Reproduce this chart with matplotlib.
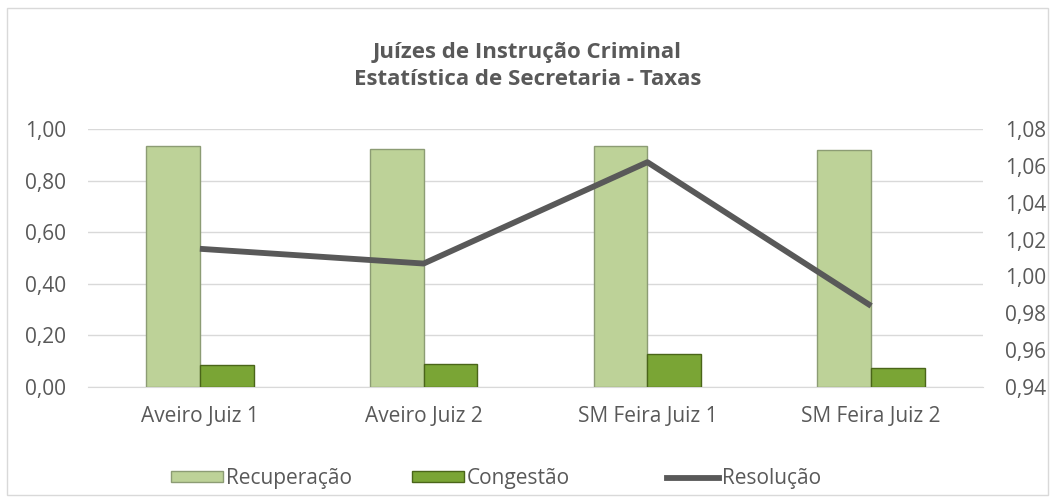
import numpy as np
import matplotlib
matplotlib.use("Agg")
import matplotlib.pyplot as plt
from matplotlib.patches import Rectangle
from matplotlib.lines import Line2D
from matplotlib.ticker import FuncFormatter

# ── Dados ────────────────────────────────────────────────────────────────────
categorias = ["Aveiro Juiz 1", "Aveiro Juiz 2", "SM Feira Juiz 1", "SM Feira Juiz 2"]
recuperacao = [0.934, 0.922, 0.936, 0.917]
congestao = [0.085, 0.088, 0.127, 0.073]
resolucao = [1.015, 1.007, 1.062, 0.984]
series = ["Recuperação", "Congestão", "Resolução"]

plt.rcParams["font.family"] = ["Open Sans", "DejaVu Sans"]
TXT = "#595959"
GRID = "#d9d9d9"
FS = 15

fig = plt.figure(figsize=(10.55, 5.01), dpi=100)
fig.patches.append(Rectangle((0.007, 0.012), 0.986, 0.972, transform=fig.transFigure,
                             fill=False, edgecolor=GRID, linewidth=1))

ax = fig.add_axes([0.0834, 0.2275, 0.8484, 0.515])
x = np.arange(len(categorias))
w = 0.24

ax.bar(x - w / 2, recuperacao, w, color="#bdd298", edgecolor="#8c9c74",
       linewidth=1, zorder=3)
ax.bar(x + w / 2, congestao, w, color="#7aa535", edgecolor="#4a6519",
       linewidth=1, zorder=3)

ax.set_xlim(-0.5, len(categorias) - 0.5)
ax.set_ylim(0, 1.0)
ax.set_yticks(np.arange(0, 1.01, 0.2))
ax.yaxis.set_major_formatter(FuncFormatter(lambda v, p: f"{v:.2f}".replace(".", ",")))
ax.grid(axis="y", color=GRID, linewidth=1, zorder=0)
ax.set_xticks(x)
ax.set_xticklabels(categorias)
for s in ["top", "right", "left"]:
    ax.spines[s].set_visible(False)
ax.spines["bottom"].set_color(GRID)
ax.tick_params(axis="both", length=0, colors=TXT, labelsize=FS)
ax.tick_params(axis="x", pad=14)
ax.tick_params(axis="y", pad=16)

ax2 = ax.twinx()
ax2.plot(x, resolucao, color="#595959", linewidth=4.2, solid_capstyle="butt", zorder=4)
ax2.set_ylim(0.94, 1.08)
ax2.set_yticks(np.arange(0.94, 1.0801, 0.02))
ax2.yaxis.set_major_formatter(FuncFormatter(lambda v, p: f"{v:.2f}".replace(".", ",")))
for s in ax2.spines.values():
    s.set_visible(False)
ax2.tick_params(axis="y", length=0, colors=TXT, labelsize=FS, pad=16)

fig.text(0.5, 0.868, "Juízes de Instrução Criminal\nEstatística de Secretaria - Taxas",
         ha="center", va="center", fontsize=16, fontweight="bold", color=TXT,
         linespacing=1.4)

handles = [
    Rectangle((0, 0), 1, 1, facecolor="#bdd298", edgecolor="#8c9c74"),
    Rectangle((0, 0), 1, 1, facecolor="#7aa535", edgecolor="#4a6519"),
    Line2D([], [], color="#595959", linewidth=4.2),
]
leg_x = [171 / 1055, 412 / 1055, 667 / 1055]
for h, lab, lx in zip(handles, series, leg_x):
    fig.legend([h], [lab], loc="center left", bbox_to_anchor=(lx, 0.045),
               frameon=False, fontsize=FS, labelcolor=TXT, handlelength=2.5,
               handleheight=0.4, handletextpad=0.15, borderpad=0,
               borderaxespad=0)

fig.savefig("out.png", dpi=100)
